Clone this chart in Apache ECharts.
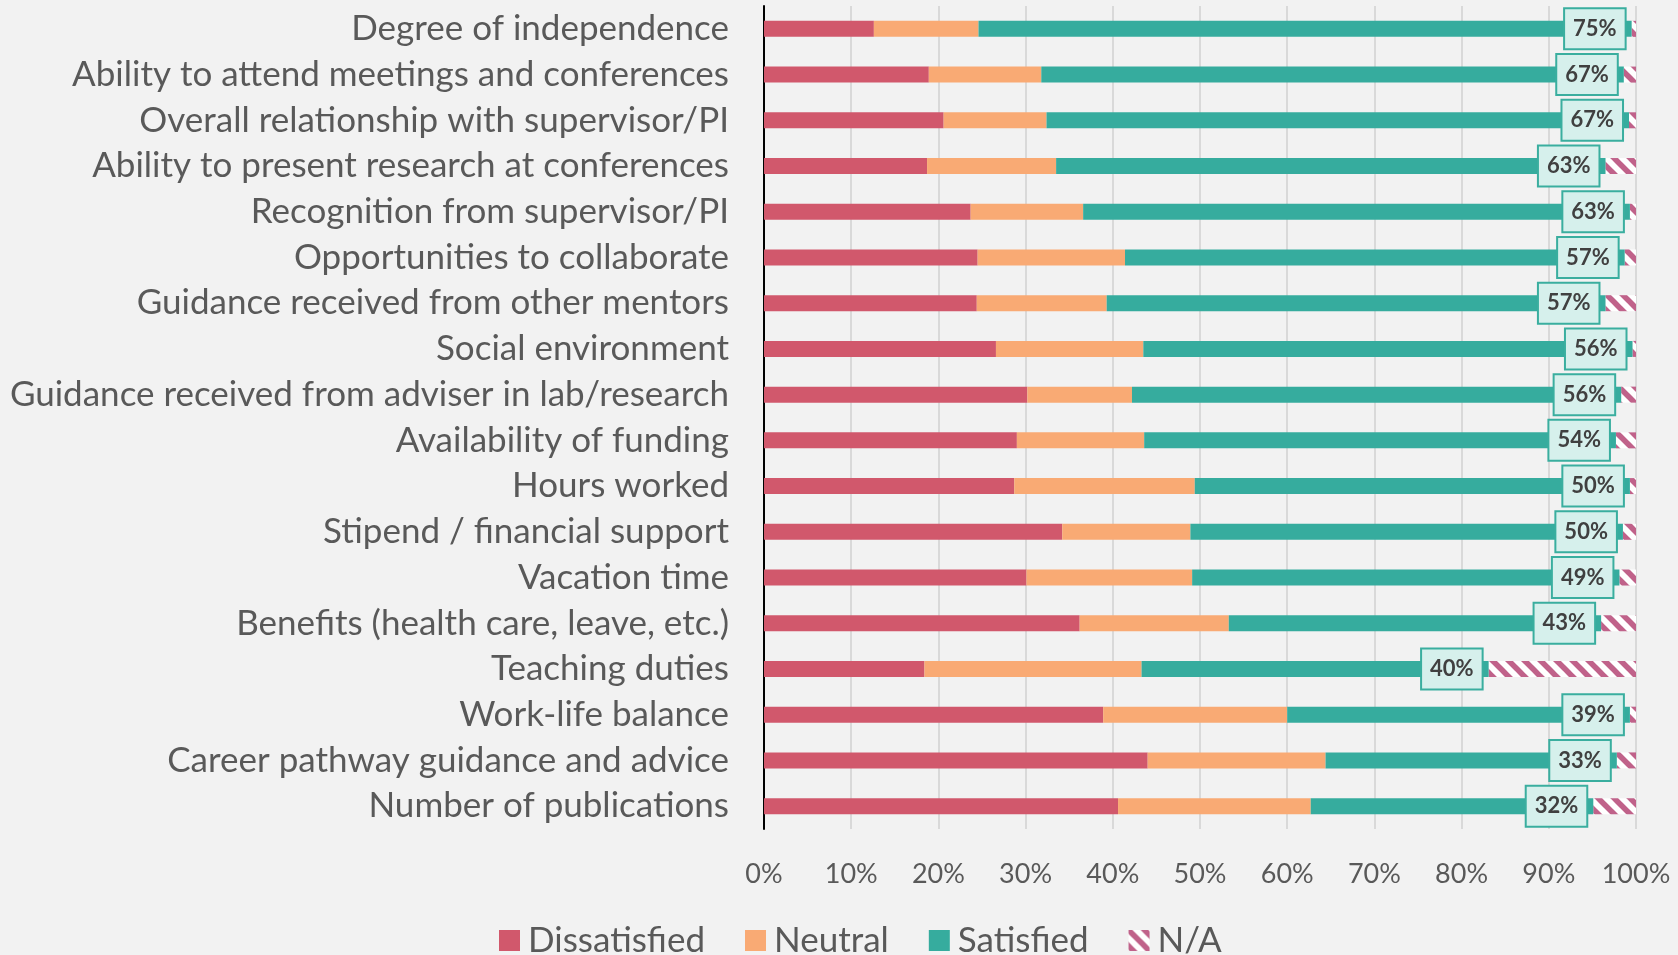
<!DOCTYPE html>
<html>
<head>
<meta charset="utf-8">
<script src="https://cdn.jsdelivr.net/npm/echarts@6/dist/echarts.min.js"></script>
<style>
html,body{margin:0;padding:0;background:#f2f2f2;}
#chart{width:1678px;height:955px;}
</style>
</head>
<body>
<div id="chart"></div>
<script>
const categories = [
  "Degree of independence",
  "Ability to attend meetings and conferences",
  "Overall relationship with supervisor/PI",
  "Ability to present research at conferences",
  "Recognition from supervisor/PI",
  "Opportunities to collaborate",
  "Guidance received from other mentors",
  "Social environment",
  "Guidance received from adviser in lab/research",
  "Availability of funding",
  "Hours worked",
  "Stipend / financial support",
  "Vacation time",
  "Benefits (health care, leave, etc.)",
  "Teaching duties",
  "Work-life balance",
  "Career pathway guidance and advice",
  "Number of publications"
];
const dissatisfied = [12.6, 18.9, 20.6, 18.7, 23.7, 24.5, 24.4, 26.6, 30.2, 29.0, 28.7, 34.2, 30.1, 36.2, 18.4, 38.9, 44.0, 40.6];
const neutral      = [12.0, 12.9, 11.8, 14.8, 12.9, 16.9, 14.9, 16.9, 12.0, 14.6, 20.7, 14.7, 19.0, 17.1, 24.9, 21.1, 20.4, 22.1];
const satisfied    = [74.9, 66.8, 66.8, 63.0, 62.7, 57.3, 57.2, 56.1, 56.1, 54.1, 49.9, 49.6, 49.0, 42.7, 39.8, 39.3, 33.4, 32.4];
const notApplicable= [0.5, 1.4, 0.8, 3.5, 0.7, 1.3, 3.5, 0.4, 1.7, 2.3, 0.7, 1.5, 1.9, 4.0, 16.9, 0.7, 2.2, 4.9];
const xTicks = [0, 10, 20, 30, 40, 50, 60, 70, 80, 90, 100];

// striped pattern for N/A
const tile = document.createElement('canvas');
tile.width = 16; tile.height = 16;
const g = tile.getContext('2d');
g.fillStyle = '#ffffff';
g.fillRect(0, 0, 16, 16);
g.strokeStyle = '#c0628a';
g.lineWidth = 5.5;
for (let k = -1; k <= 1; k++) {
  g.beginPath();
  g.moveTo(-16, -16 + 16 * k);
  g.lineTo(32, 32 + 16 * k);
  g.stroke();
}
const naPattern = { image: tile, repeat: 'repeat' };

const FONT = 'Lato';
const chart = echarts.init(document.getElementById('chart'), null, { renderer: 'canvas' });
const common = { type: 'bar', stack: 'total', barWidth: 16, emphasis: { disabled: true } };

chart.setOption({
  backgroundColor: '#f2f2f2',
  animation: false,
  textStyle: { fontFamily: FONT },
  grid: { left: 764, right: 42, top: 6, bottom: 126, containLabel: false },
  legend: {
    left: 494, top: 918,
    itemWidth: 21, itemHeight: 21, itemGap: 40,
    icon: 'rect',
    textStyle: { fontFamily: FONT, fontSize: 35, color: '#595959', padding: [0, 0, 0, 3] },
    data: ['Dissatisfied', 'Neutral', 'Satisfied', 'N/A']
  },
  xAxis: {
    type: 'value', min: xTicks[0], max: xTicks[xTicks.length - 1], interval: 10,
    axisLine: { show: false }, axisTick: { show: false },
    splitLine: { show: true, lineStyle: { color: '#d9d9d9', width: 2 } },
    axisLabel: { formatter: '{value}%', fontFamily: FONT, fontSize: 27, color: '#595959', margin: 32 }
  },
  yAxis: {
    type: 'category', inverse: true, data: categories,
    axisTick: { show: false },
    axisLine: { show: true, lineStyle: { color: '#000000', width: 2 } },
    axisLabel: { fontFamily: FONT, fontSize: 35, color: '#595959', margin: 35 }
  },
  series: [
    Object.assign({ name: 'Dissatisfied', data: dissatisfied, itemStyle: { color: '#d1586c' } }, common),
    Object.assign({ name: 'Neutral', data: neutral, itemStyle: { color: '#f9aa74' } }, common),
    Object.assign({
      name: 'Satisfied', data: satisfied, itemStyle: { color: '#36ac9e' }, z: 3,
      label: {
        show: true, position: 'insideRight', distance: 7,
        formatter: p => Math.round(p.value) + '%',
        fontFamily: FONT, fontSize: 22, fontWeight: 'bold', color: '#404040',
        backgroundColor: '#d6f0ec', borderColor: '#3aae9f', borderWidth: 2,
        padding: [9, 8, 6, 8], lineHeight: 24
      }
    }, common),
    Object.assign({ name: 'N/A', data: notApplicable, itemStyle: { color: naPattern }, z: 1 }, common)
  ]
});
</script>
</body>
</html>
